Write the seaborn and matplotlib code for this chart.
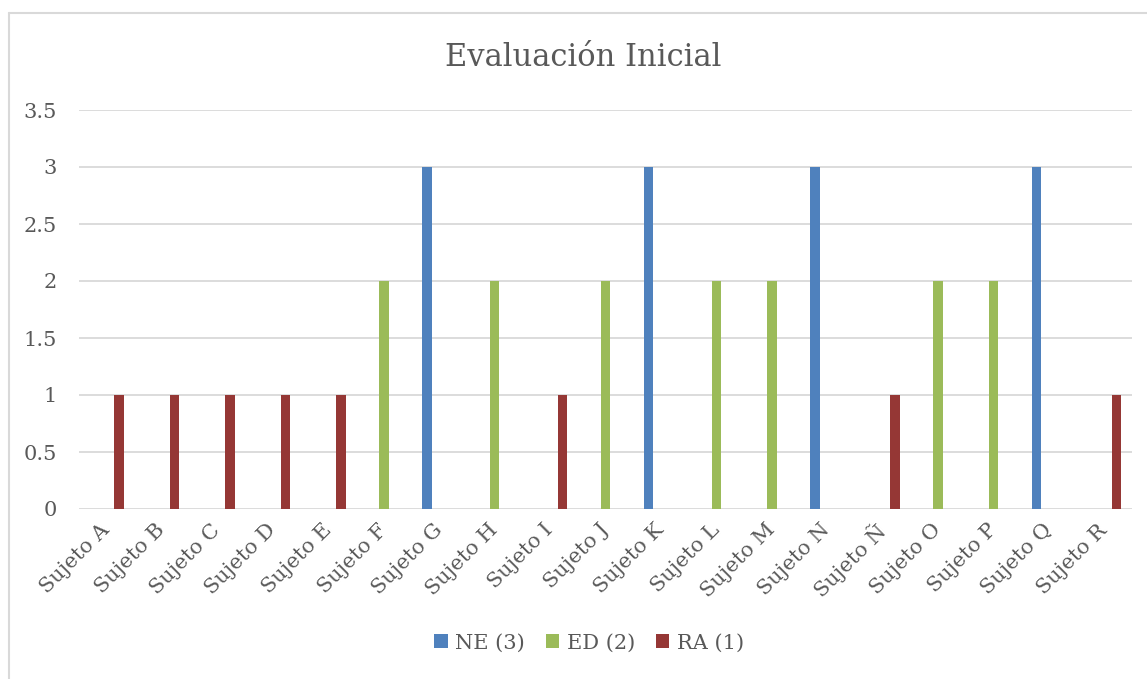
import matplotlib
matplotlib.use("Agg")
import matplotlib.pyplot as plt
from matplotlib.lines import Line2D
from matplotlib.patches import Patch
import seaborn as sns
import pandas as pd

# Data
subjects = ["Sujeto A", "Sujeto B", "Sujeto C", "Sujeto D", "Sujeto E", "Sujeto F",
            "Sujeto G", "Sujeto H", "Sujeto I", "Sujeto J", "Sujeto K", "Sujeto L",
            "Sujeto M", "Sujeto N", "Sujeto Ñ", "Sujeto O", "Sujeto P", "Sujeto Q",
            "Sujeto R"]
series = ["NE (3)", "ED (2)", "RA (1)"]
ne_values = [0, 0, 0, 0, 0, 0, 3, 0, 0, 0, 3, 0, 0, 3, 0, 0, 0, 3, 0]
ed_values = [0, 0, 0, 0, 0, 2, 0, 2, 0, 2, 0, 2, 2, 0, 0, 2, 2, 0, 0]
ra_values = [1, 1, 1, 1, 1, 0, 0, 0, 1, 0, 0, 0, 0, 0, 1, 0, 0, 0, 1]
colors = ["#4F81BD", "#9BBB59", "#953735"]
y_ticks = [0, 0.5, 1, 1.5, 2, 2.5, 3, 3.5]
y_tick_labels = ["0", "0.5", "1", "1.5", "2", "2.5", "3", "3.5"]

df = pd.DataFrame({
    "Sujeto": subjects * 3,
    "Serie": [series[0]] * len(subjects) + [series[1]] * len(subjects) + [series[2]] * len(subjects),
    "Valor": ne_values + ed_values + ra_values,
})

sns.set_theme(style="white")
plt.rcParams["font.family"] = ["DejaVu Serif"]
text_color = "#595959"
grid_color = "#D9D9D9"

W, H = 1147, 679
fig = plt.figure(figsize=(W / 100, H / 100), dpi=100)
ax = fig.add_axes([79 / W, 1 - 509 / H, (1132 - 79) / W, (509 - 110) / H])

sns.barplot(data=df, x="Sujeto", y="Valor", hue="Serie", order=subjects,
            hue_order=series, palette=colors, width=0.67, gap=0.22,
            linewidth=0, saturation=1, ax=ax, legend=False)

ax.set_xlim(-0.5, len(subjects) - 0.5)
ax.set_ylim(0, 3.5)
ax.set_yticks(y_ticks)
ax.set_yticklabels(y_tick_labels)
ax.yaxis.grid(True, color=grid_color, linewidth=1.3)
ax.set_axisbelow(True)
for s in ax.spines.values():
    s.set_visible(False)
ax.set_xlabel("")
ax.set_ylabel("")
ax.tick_params(axis="both", length=0, colors=text_color, labelsize=15)
ax.tick_params(axis="y", pad=16)
ax.tick_params(axis="x", pad=13)
for lbl in ax.get_xticklabels():
    lbl.set_rotation(45)
    lbl.set_ha("right")
    lbl.set_va("center")
    lbl.set_rotation_mode("anchor")
for lbl in ax.get_yticklabels():
    lbl.set_ha("right")

fig.text(583.5 / W, 1 - 57 / H, "Evaluación Inicial", ha="center", va="center",
         fontsize=22, color=text_color)

handles = [Patch(facecolor=c, edgecolor="none", label=s) for c, s in zip(colors, series)]
fig.legend(handles=handles, loc="center", bbox_to_anchor=(589 / W, 1 - 643 / H),
           ncol=3, frameon=False, fontsize=15, handlelength=0.65, handleheight=0.65,
           handletextpad=0.35, columnspacing=1.0, labelcolor=text_color)

# Chart frame (left and top edges)
x0 = 8.5 / W
y_top = 1 - 12.5 / H
fig.add_artist(Line2D([x0, x0], [0, y_top], color=grid_color, linewidth=1.5))
fig.add_artist(Line2D([x0, 1], [y_top, y_top], color=grid_color, linewidth=1.5))

fig.savefig("out.png", dpi=100, facecolor="white")
